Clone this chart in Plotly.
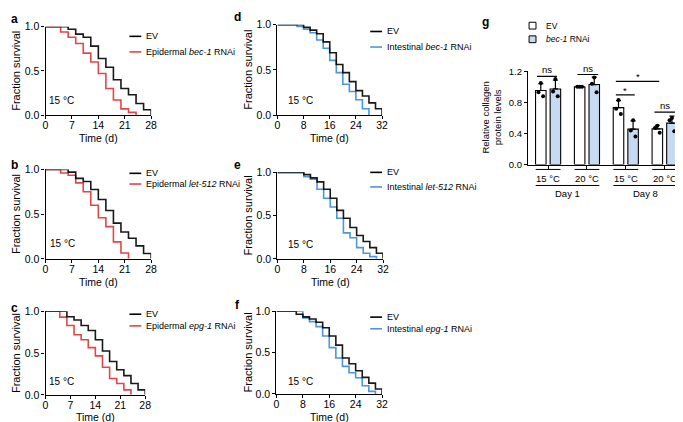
import numpy as np
import plotly.graph_objects as go

W, H = 683, 422
FONT = "Liberation Sans, Arial, sans-serif"
RED = "#e0474c"
BLUE = "#4d96dc"
LIGHTBLUE = "#c6daf2"

# ---------------- survival data (time in days, fraction surviving) ----------------
a_ev_t = [0, 6, 8, 10, 12, 14, 16, 18, 20, 22, 24, 26, 28]
a_ev_s = [1.0, 0.97, 0.915, 0.88, 0.78, 0.64, 0.54, 0.40, 0.30, 0.23, 0.13, 0.06, 0.0]
a_rn_t = [0, 4, 6, 8, 10, 12, 14, 16, 18, 20, 22, 24]
a_rn_s = [1.0, 0.94, 0.88, 0.81, 0.70, 0.60, 0.47, 0.30, 0.17, 0.07, 0.03, 0.0]

b_ev_t = [0, 6, 8, 10, 12, 14, 16, 18, 20, 22, 24, 26, 28]
b_ev_s = [1.0, 0.97, 0.90, 0.866, 0.775, 0.663, 0.54, 0.40, 0.30, 0.23, 0.145, 0.06, 0.0]
b_rn_t = [0, 4, 6, 8, 10, 12, 14, 16, 18, 20, 22]
b_rn_s = [1.0, 0.96, 0.935, 0.85, 0.75, 0.60, 0.46, 0.36, 0.19, 0.065, 0.0]

c_ev_t = [0, 6, 8, 10, 12, 14, 16, 18, 20, 22, 24, 26, 28]
c_ev_s = [1.0, 0.934, 0.895, 0.83, 0.77, 0.66, 0.525, 0.40, 0.30, 0.23, 0.136, 0.06, 0.0]
c_rn_t = [0, 4, 6, 8, 10, 12, 14, 16, 18, 20, 22, 24]
c_rn_s = [1.0, 0.93, 0.83, 0.72, 0.66, 0.565, 0.467, 0.33, 0.195, 0.136, 0.06, 0.0]

d_ev_t = [0, 8, 10, 12, 14, 16, 18, 20, 22, 24, 26, 28, 30, 32]
d_ev_s = [1.0, 0.97, 0.94, 0.90, 0.81, 0.69, 0.56, 0.47, 0.37, 0.27, 0.21, 0.135, 0.07, 0.0]
d_rn_t = [0, 6, 8, 10, 12, 14, 16, 18, 20, 22, 24, 26, 28]
d_rn_s = [1.0, 0.98, 0.95, 0.91, 0.83, 0.74, 0.605, 0.47, 0.34, 0.26, 0.17, 0.07, 0.0]

e_ev_t = [0, 8, 10, 12, 14, 16, 18, 20, 22, 24, 26, 28, 30, 32]
e_ev_s = [1.0, 0.974, 0.936, 0.89, 0.805, 0.70, 0.56, 0.47, 0.363, 0.27, 0.20, 0.13, 0.064, 0.0]
e_rn_t = [0, 8, 10, 12, 14, 16, 18, 20, 22, 24, 26, 28, 30]
e_rn_s = [1.0, 0.95, 0.92, 0.805, 0.70, 0.60, 0.47, 0.30, 0.243, 0.13, 0.064, 0.026, 0.0]

f_ev_t = [0, 6, 8, 10, 12, 14, 16, 18, 20, 22, 24, 26, 28, 30, 32]
f_ev_s = [1.0, 0.965, 0.933, 0.906, 0.867, 0.80, 0.70, 0.59, 0.435, 0.365, 0.28, 0.20, 0.13, 0.06, 0.0]
f_rn_t = [0, 8, 10, 12, 14, 16, 18, 20, 22, 24, 26, 28, 30]
f_rn_s = [1.0, 0.92, 0.875, 0.815, 0.70, 0.56, 0.435, 0.333, 0.255, 0.196, 0.098, 0.03, 0.0]

ticks_28 = [0, 7, 14, 21, 28]
ticks_32 = [0, 8, 16, 24, 32]
surv_ticks = [0.0, 0.5, 1.0]

# ---------------- collagen data (panel g) ----------------
g_groups = ["15 °C", "20 °C", "15 °C", "20 °C"]
g_days = ["Day 1", "Day 8"]
g_ev_reps = [[1.05, 0.93, 0.88], [1.0, 1.0, 1.0], [0.83, 0.72, 0.65], [0.50, 0.47, 0.41]]
g_rn_reps = [[1.10, 0.94, 0.88], [1.12, 1.04, 0.93], [0.57, 0.44, 0.36], [0.60, 0.57, 0.43]]
g_yticks = [0.0, 0.4, 0.8, 1.2]
# significance: (label, from x, to x, y)
g_sig = [("ns", -0.76, 0.6, 1.134), ("ns", 2.01, 3.43, 1.159),
         ("*", 4.64, 5.93, 0.896), ("*", 4.64, 7.61, 1.071), ("ns", 7.28, 8.7, 0.675)]


def X(p):
    return p / W


def Y(p):
    return 1 - p / H


fig = go.Figure()
shapes = []
annotations = []
layout = {}

panels = [
    (1, "a", (35, 142), (13, 104), 28, ticks_28, (a_ev_t, a_ev_s), (a_rn_t, a_rn_s), RED,
     "Epidermal <i>bec-1</i> RNAi", (120, 23, 39), (51, 89), 128, (4, 5)),
    (2, "b", (35, 142), (160, 252), 28, ticks_28, (b_ev_t, b_ev_s), (b_rn_t, b_rn_s), RED,
     "Epidermal <i>let-512</i> RNAi", (120, 164, 175), (52, 236), 276, (4, 155)),
    (3, "c", (35, 136), (306, 392), 28, ticks_28, (c_ev_t, c_ev_s), (c_rn_t, c_rn_s), RED,
     "Epidermal <i>epg-1</i> RNAi", (120, 309, 321), (51, 378), 415, (4, 303)),
    (4, "d", (270, 376), (11, 104), 32, ticks_32, (d_ev_t, d_ev_s), (d_rn_t, d_rn_s), BLUE,
     "Intestinal <i>bec-1</i> RNAi", (364, 18, 34), (293, 89), 128, (230, 3)),
    (5, "e", (270, 377), (163, 252), 32, ticks_32, (e_ev_t, e_ev_s), (e_rn_t, e_rn_s), BLUE,
     "Intestinal <i>let-512</i> RNAi", (364, 163, 178), (293, 237), 276, (230, 155)),
    (6, "f", (269, 376), (306, 391), 32, ticks_32, (f_ev_t, f_ev_s), (f_rn_t, f_rn_s), BLUE,
     "Intestinal <i>epg-1</i> RNAi", (364, 312, 324), (293, 378), 415, (230, 300)),
]

axis_common = dict(showline=True, linecolor="black", linewidth=1.3, ticks="outside",
                   ticklen=3, tickwidth=1.3, tickcolor="black", showgrid=False, zeroline=False,
                   tickfont=dict(family=FONT, size=10.5, color="black"), fixedrange=True)

for (n, letter, xd, yd, xmax, xt, ev, rn, col, lab, leg, temp, xty, lpos) in panels:
    sx = "" if n == 1 else str(n)
    fig.add_trace(go.Scatter(x=rn[0], y=rn[1], mode="lines", line=dict(color=col, width=1.6, shape="hv"),
                             xaxis="x" + sx, yaxis="y" + sx, showlegend=False, cliponaxis=False))
    fig.add_trace(go.Scatter(x=ev[0], y=ev[1], mode="lines", line=dict(color="black", width=1.6, shape="hv"),
                             xaxis="x" + sx, yaxis="y" + sx, showlegend=False, cliponaxis=False, opacity=0.9))
    layout["xaxis" + sx] = dict(axis_common, domain=[X(xd[0]), X(xd[1])], range=[0, xmax], tickvals=xt,
                                anchor="y" + sx, ticklabelstandoff=-3)
    layout["yaxis" + sx] = dict(axis_common, domain=[Y(yd[1]), Y(yd[0])], range=[0, 1], tickvals=surv_ticks,
                                tickformat=".1f", anchor="x" + sx)
    lx, ly1, ly2 = leg
    shapes.append(dict(type="line", xref="paper", yref="paper", x0=X(lx), x1=X(lx + 12), y0=Y(ly1), y1=Y(ly1),
                       line=dict(color="black", width=1.6)))
    shapes.append(dict(type="line", xref="paper", yref="paper", x0=X(lx), x1=X(lx + 12), y0=Y(ly2), y1=Y(ly2),
                       line=dict(color=col, width=1.6)))
    annotations.append(dict(text="EV", x=X(lx + 15), y=Y(ly1), xref="paper", yref="paper", xanchor="left",
                            yanchor="middle", showarrow=False, font=dict(family=FONT, size=9, color="black")))
    annotations.append(dict(text=lab, x=X(lx + 15), y=Y(ly2), xref="paper", yref="paper", xanchor="left",
                            yanchor="middle", showarrow=False, font=dict(family=FONT, size=9, color="black")))
    annotations.append(dict(text="15 °C", x=X(temp[0]), y=Y(temp[1]), xref="paper", yref="paper",
                            xanchor="center", yanchor="middle", showarrow=False,
                            font=dict(family=FONT, size=10, color="black")))
    annotations.append(dict(text="Time (d)", x=X((xd[0] + xd[1]) / 2), y=Y(xty), xref="paper", yref="paper",
                            xanchor="center", yanchor="middle", showarrow=False,
                            font=dict(family=FONT, size=10.5, color="black")))
    ytx = 5 if xd[0] < 100 else 240
    annotations.append(dict(text="Fraction survival", x=X(ytx), y=Y((yd[0] + yd[1]) / 2), xref="paper",
                            yref="paper", xanchor="center", yanchor="middle", textangle=-90, showarrow=False,
                            font=dict(family=FONT, size=11, color="black")))
    annotations.append(dict(text="<b>%s</b>" % letter, x=X(lpos[0]), y=Y(lpos[1]), xref="paper", yref="paper",
                            xanchor="center", yanchor="middle", showarrow=False,
                            font=dict(family=FONT, size=12, color="black")))

# ---------------- panel g ----------------
centers = np.arange(len(g_groups)) * 2.66
ev_x = centers - 0.5
rn_x = centers + 0.5
ev_mean = [float(np.mean(r)) for r in g_ev_reps]
rn_mean = [float(np.mean(r)) for r in g_rn_reps]
ev_sd = [float(np.std(r, ddof=1)) for r in g_ev_reps]
rn_sd = [float(np.std(r, ddof=1)) for r in g_rn_reps]

fig.add_trace(go.Bar(x=ev_x, y=ev_mean, width=0.72, marker=dict(color="white", line=dict(color="black", width=1.1)),
                     error_y=dict(type="data", symmetric=False, array=ev_sd, arrayminus=[0] * 4,
                                  color="black", thickness=1.2, width=2.5),
                     xaxis="x7", yaxis="y7", showlegend=False))
fig.add_trace(go.Bar(x=rn_x, y=rn_mean, width=0.72, marker=dict(color=LIGHTBLUE, line=dict(color="black", width=1.1)),
                     error_y=dict(type="data", symmetric=False, array=rn_sd, arrayminus=[0] * 4,
                                  color="black", thickness=1.2, width=2.5),
                     xaxis="x7", yaxis="y7", showlegend=False))
jit = [0.0, -0.16, 0.16]
dx, dy = [], []
for xs, reps in ((ev_x, g_ev_reps), (rn_x, g_rn_reps)):
    for xc, r in zip(xs, reps):
        for j, v in enumerate(r):
            dx.append(xc + jit[j])
            dy.append(v)
fig.add_trace(go.Scatter(x=dx, y=dy, mode="markers", marker=dict(color="black", size=4),
                         xaxis="x7", yaxis="y7", showlegend=False, cliponaxis=False))

layout["xaxis7"] = dict(axis_common, domain=[X(524), X(682.5)], range=[-1.37, 9.34], tickvals=list(centers),
                        showticklabels=False, anchor="y7")
layout["yaxis7"] = dict(axis_common, domain=[Y(155), Y(59)], range=[0, 1.2], tickvals=g_yticks,
                        tickformat=".1f", anchor="x7", tickfont=dict(family=FONT, size=9.5, color="black"))
layout["barmode"] = "overlay"

for lab, x0, x1, yv in g_sig:
    shapes.append(dict(type="line", xref="x7", yref="y7", x0=x0, x1=x1, y0=yv, y1=yv,
                       line=dict(color="black", width=1.2)))
    annotations.append(dict(text=lab, x=(x0 + x1) / 2, y=yv, xref="x7", yref="y7", xanchor="center",
                            yanchor="bottom", yshift=-3 if lab == "*" else -1, showarrow=False,
                            font=dict(family=FONT, size=9.5, color="black")))

for c, gl in zip(centers, g_groups):
    shapes.append(dict(type="line", xref="x7", yref="paper", x0=c - 0.85, x1=c + 0.85, y0=Y(160), y1=Y(160),
                       line=dict(color="black", width=1)))
    annotations.append(dict(text=gl, x=c, y=Y(169.5), xref="x7", yref="paper", xanchor="center", yanchor="middle",
                            showarrow=False, font=dict(family=FONT, size=9.5, color="black")))
for k, dl in enumerate(g_days):
    c0, c1 = centers[2 * k], centers[2 * k + 1]
    shapes.append(dict(type="line", xref="x7", yref="paper", x0=c0 - 0.85, x1=c1 + 0.85, y0=Y(176.5), y1=Y(176.5),
                       line=dict(color="black", width=1)))
    annotations.append(dict(text=dl, x=(c0 + c1) / 2, y=Y(185), xref="x7", yref="paper", xanchor="center",
                            yanchor="middle", showarrow=False, font=dict(family=FONT, size=9.5, color="black")))

annotations.append(dict(text="Relative collagen<br>protein levels", x=X(487), y=Y(107), xref="paper",
                        yref="paper", xanchor="center", yanchor="middle", textangle=-90, showarrow=False,
                        font=dict(family=FONT, size=9.5, color="black")))
annotations.append(dict(text="<b>g</b>", x=X(481), y=Y(8), xref="paper", yref="paper", xanchor="center",
                        yanchor="middle", showarrow=False, font=dict(family=FONT, size=12, color="black")))
for yy, fc, txt in ((12, "white", "EV"), (26, LIGHTBLUE, "<i>bec-1</i> RNAi")):
    shapes.append(dict(type="rect", xref="paper", yref="paper", x0=X(525), x1=X(532), y0=Y(yy + 3.5),
                       y1=Y(yy - 3.5), fillcolor=fc, line=dict(color="black", width=1)))
    annotations.append(dict(text=txt, x=X(540), y=Y(yy), xref="paper", yref="paper", xanchor="left",
                            yanchor="middle", showarrow=False, font=dict(family=FONT, size=8.5, color="black")))

fig.update_layout(width=W, height=H, margin=dict(l=0, r=0, t=0, b=0), paper_bgcolor="white",
                  plot_bgcolor="white", shapes=shapes, annotations=annotations, font=dict(family=FONT),
                  **layout)
fig.write_html("out.html")
